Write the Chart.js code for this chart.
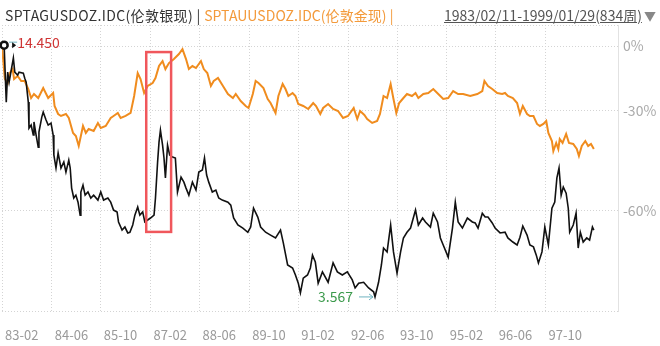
<!DOCTYPE html>
<html>
<head>
<meta charset="utf-8">
<script src="https://cdn.jsdelivr.net/npm/chart.js@4.4.1/dist/chart.umd.min.js"></script>
<style>
  html, body { margin: 0; padding: 0; background: #fff; }
  #wrap { position: relative; width: 660px; height: 346px; overflow: hidden; font-family: "Noto Sans CJK SC", "Noto Sans", sans-serif; }
  #head { position: absolute; left: 5px; top: 5px; font-size: 14px; letter-spacing: 0.35px; line-height: 20px; white-space: nowrap; color: #333; }
  #head .gold { color: #f39a3b; letter-spacing: 0.05px; }
  #range { position: absolute; left: 444px; top: 5px; font-size: 14px; line-height: 20px; color: #555; white-space: nowrap; }
  #range .arrow { color: #888; font-size: 12px; margin-left: 2px; }
  canvas { position: absolute; left: 0; top: 0; }
</style>
</head>
<body>
<div id="wrap">
  <canvas id="chart" width="660" height="346"></canvas>
  <div id="head"><span>SPTAGUSDOZ.IDC(伦敦银现) | </span><span class="gold">SPTAUUSDOZ.IDC(伦敦金现) |</span></div>
  <div id="range"><u>1983/02/11-1999/01/29(834周)</u><span class="arrow">▼</span></div>
</div>
<script>
// [week since 1983/02/11, close]
const silver = [
  [0,14.38],[3,14.45],[6,10.53],[8,12.44],[10,11.77],[16,13.45],[18,12.44],[22,12.23],[24,12.44],[30,12.37],
  [32,12.03],[34,11.77],[37,10.53],[38,9.11],[41,9.27],[44,8.77],[45,9.43],[48,8.77],[51,8.20],[52,8.91],
  [56,9.69],[58,9.96],[62,9.53],[65,9.27],[69,9.37],[72,8.77],[73,7.85],[76,7.30],[79,7.94],[83,7.30],
  [87,7.55],[90,7.14],[94,7.63],[96,7.30],[98,6.53],[101,6.18],[104,6.28],[107,6.04],[110,5.62],[111,6.39],
  [114,6.64],[117,6.28],[121,6.39],[125,6.18],[129,6.28],[135,6.11],[139,6.39],[143,6.11],[149,6.18],[153,6.04],
  [157,5.78],[162,5.72],[164,5.41],[169,5.17],[173,5.26],[177,5.09],[180,5.11],[184,5.32],[187,5.62],[191,5.88],
  [194,5.62],[198,5.72],[201,5.41],[205,5.47],[209,5.53],[214,5.62],[216,6.18],[219,7.55],[221,8.43],[223,9.01],
  [226,8.29],[228,7.72],[230,6.91],[233,8.29],[236,7.85],[240,7.76],[244,7.72],[247,6.39],[252,6.94],[256,6.75],
  [259,6.53],[263,6.28],[268,6.75],[273,6.46],[277,7.14],[282,7.22],[285,7.72],[288,7.02],[291,6.75],[296,6.39],
  [301,6.46],[305,6.18],[310,6.11],[318,6.04],[322,5.94],[326,5.53],[332,5.32],[339,5.23],[346,5.11],[350,5.26],
  [354,5.84],[360,5.56],[364,5.26],[371,5.11],[378,5.03],[385,4.95],[392,5.17],[396,4.81],[402,4.26],[409,4.19],
  [413,4.03],[417,3.85],[420,3.65],[424,3.96],[430,4.03],[434,4.19],[437,4.50],[441,4.33],[445,3.85],[451,4.10],
  [459,3.87],[466,4.31],[472,4.10],[479,4.03],[486,4.10],[493,3.92],[497,3.75],[502,3.85],[509,3.87],[516,3.75],
  [523,3.67],[525,3.567],[530,3.87],[534,4.26],[537,4.68],[542,4.58],[547,5.32],[551,4.58],[556,4.07],[561,4.58],
  [565,4.95],[570,5.11],[575,5.23],[582,5.78],[586,5.32],[592,5.53],[596,5.41],[603,5.26],[607,5.68],[613,5.41],
  [617,4.95],[621,4.76],[628,4.45],[634,5.23],[638,6.04],[642,5.41],[648,5.23],[655,5.53],[662,5.41],[666,5.38],
  [670,5.23],[676,5.68],[680,5.56],[684,5.56],[690,5.38],[694,5.23],[701,5.09],[708,5.11],[712,4.95],[719,4.84],
  [725,4.76],[729,4.97],[733,5.29],[739,5.03],[743,4.76],[748,4.71],[752,4.50],[755,4.31],[760,4.58],[764,5.26],
  [769,4.76],[774,5.84],[778,6.04],[781,6.91],[784,7.30],[787,6.28],[790,6.57],[794,6.35],[797,5.84],[799,5.11],
  [804,5.32],[808,5.68],[811,4.68],[814,5.11],[818,4.84],[823,4.95],[827,4.89],[831,5.26],[833,5.17]
]
const gold = [
  [0,500],[4,416.3],[8,407.2],[11,430.4],[15,440.0],[17,416.3],[22,423.3],[27,411.7],[32,411.7],[37,393.8],
  [41,374.6],[45,383.0],[51,374.6],[58,395.9],[65,374.6],[72,385.2],[74,358.3],[79,342.8],[83,339.0],[90,342.8],
  [94,335.3],[100,308.5],[104,303.3],[108,287.0],[114,320.7],[118,308.5],[122,315.4],[129,311.9],[135,326.1],[139,317.2],
  [146,320.7],[153,335.3],[157,339.0],[163,344.7],[167,335.3],[174,339.0],[181,344.7],[186,378.8],[191,430.4],[195,416.3],
  [200,385.2],[205,400.4],[212,407.2],[216,418.6],[221,447.4],[226,460.0],[230,440.0],[235,454.9],[242,465.1],[249,478.3],
  [254,491.7],[259,465.1],[263,440.0],[268,447.4],[273,442.5],[280,460.0],[284,440.0],[289,430.4],[294,400.4],[298,411.7],
  [304,418.6],[311,400.4],[318,383.0],[325,374.6],[329,383.0],[336,368.4],[343,358.3],[347,354.4],[353,383.0],[357,411.7],
  [361,407.2],[368,395.9],[374,372.5],[378,364.3],[385,344.7],[389,378.8],[395,404.9],[399,393.8],[403,378.8],[409,385.2],
  [413,378.8],[417,362.3],[424,358.3],[431,352.4],[438,364.3],[442,358.3],[448,342.8],[452,354.4],[459,362.3],[466,352.4],
  [473,348.5],[480,335.3],[487,339.0],[495,354.4],[500,333.4],[504,348.5],[510,340.9],[514,333.4],[521,326.1],[528,329.7],
  [532,342.8],[537,378.8],[542,374.6],[547,404.9],[551,372.5],[555,344.7],[559,364.3],[565,374.6],[570,383.0],[577,378.8],
  [582,385.2],[586,374.6],[593,383.0],[600,385.2],[607,393.8],[614,383.0],[621,372.5],[628,374.6],[635,389.4],[642,383.0],
  [649,383.0],[659,378.8],[669,383.0],[676,389.4],[679,411.7],[684,400.4],[690,393.8],[697,385.2],[704,383.0],[708,385.2],
  [712,378.8],[719,374.6],[725,364.3],[729,342.8],[733,358.3],[739,342.8],[743,339.0],[748,339.0],[753,324.3],[757,320.7],
  [762,324.3],[766,329.7],[769,308.5],[774,295.0],[776,279.1],[780,291.8],[783,282.2],[785,298.3],[789,291.8],[794,306.7],
  [798,291.8],[804,290.2],[809,282.2],[812,271.5],[816,287.0],[821,295.0],[825,287.0],[829,290.2],[833,282.2]
]
const tickWeeks = [0, 70, 139, 209, 278, 348, 417, 487, 556, 626, 695, 765]
const tickLabels = ["83-02", "84-06", "85-10", "87-02", "88-06", "89-10", "91-02", "92-06", "93-10", "95-02", "96-06", "97-10"]
const pctTicks = [0, -30, -60]
// the boxed spring-1987 silver rally, in weeks and % change
const highlight = { from: 203, to: 238, top: -3.3, bottom: -64.4 }

const X_MAX = 867
const Y_MIN = 0.2294
const Y_MAX = 1.124
const FONT = "\"Noto Sans CJK SC\", \"Noto Sans\", sans-serif"

// both series are drawn as change against their first week, on a log axis
const relative = (series) => series.map(([week, close]) => ({ x: week, y: close / series[0][1] }))

const markers = {
  id: "markers",
  afterDatasetsDraw(chart) {
    const { ctx, scales: { x, y } } = chart
    const base = silver[0][1]
    let hi = silver[0], lo = silver[0]
    silver.forEach((p) => { if (p[1] > hi[1]) hi = p; if (p[1] < lo[1]) lo = p })

    ctx.save()
    ctx.font = `14px ${FONT}`
    ctx.textBaseline = "middle"

    // highest close: ring, pointer and red label
    const hx = x.getPixelForValue(hi[0]), hy = y.getPixelForValue(hi[1] / base)
    ctx.strokeStyle = "#6fb3c0"
    ctx.lineWidth = 1
    ctx.beginPath(); ctx.moveTo(hx + 5, hy - 3); ctx.lineTo(hx + 13, hy - 3); ctx.stroke()
    ctx.fillStyle = "#111"
    ctx.beginPath(); ctx.moveTo(hx + 8, hy - 3); ctx.lineTo(hx + 8, hy + 3); ctx.lineTo(hx + 12, hy); ctx.closePath(); ctx.fill()
    ctx.fillStyle = "#fff"
    ctx.strokeStyle = "#111"
    ctx.lineWidth = 2.5
    ctx.beginPath(); ctx.arc(hx, hy, 3.5, 0, Math.PI * 2); ctx.fill(); ctx.stroke()
    ctx.fillStyle = "#cf3434"
    ctx.textAlign = "left"
    ctx.fillText(hi[1].toFixed(3), hx + 13, hy - 2)

    // lowest close: green label with arrow
    const lx = x.getPixelForValue(lo[0]), ly = y.getPixelForValue(lo[1] / base)
    ctx.strokeStyle = "#6fb3c0"
    ctx.lineWidth = 1
    ctx.beginPath(); ctx.moveTo(lx - 16, ly); ctx.lineTo(lx - 2, ly); ctx.lineTo(lx - 6, ly - 3); ctx.moveTo(lx - 2, ly); ctx.lineTo(lx - 6, ly + 3); ctx.stroke()
    ctx.fillStyle = "#3c9a4c"
    ctx.textAlign = "right"
    ctx.fillText(lo[1].toFixed(3), lx - 22, ly)

    // red box
    const x0 = x.getPixelForValue(highlight.from), x1 = x.getPixelForValue(highlight.to)
    const y0 = y.getPixelForValue(1 + highlight.top / 100), y1 = y.getPixelForValue(1 + highlight.bottom / 100)
    ctx.strokeStyle = "#f0575c"
    ctx.lineWidth = 2.5
    ctx.strokeRect(x0, y0, x1 - x0, y1 - y0)
    ctx.restore()
  }
}

Chart.defaults.font.family = FONT

new Chart(document.getElementById("chart"), {
  type: "line",
  data: {
    datasets: [
      { label: "SPTAGUSDOZ.IDC", data: relative(silver), borderColor: "#111", borderWidth: 1.6 },
      { label: "SPTAUUSDOZ.IDC", data: relative(gold), borderColor: "#f08c1e", borderWidth: 2 }
    ]
  },
  options: {
    responsive: false,
    animation: false,
    layout: { padding: { top: 25, left: 2, right: 0, bottom: 0 } },
    elements: { point: { radius: 0 }, line: { tension: 0 } },
    plugins: { legend: { display: false }, tooltip: { enabled: false } },
    scales: {
      x: {
        type: "linear",
        min: 0,
        max: X_MAX,
        afterBuildTicks: (scale) => { scale.ticks = tickWeeks.concat([X_MAX]).map((value) => ({ value })) },
        afterFit: (scale) => {
          scale.height = 35
          scale.paddingLeft = 0
          scale.paddingRight = 0
        },
        grid: { color: "#d4d4d4", drawTicks: false },
        border: { display: false, dash: [1, 2] },
        ticks: {
          autoSkip: false, maxRotation: 0, align: "start", labelOffset: 3, padding: 16,
          color: "#9a9a9a", font: { size: 13 },
          callback: (value, index) => tickLabels[index] ?? ""
        }
      },
      y: {
        type: "logarithmic",
        position: "right",
        min: Y_MIN,
        max: Y_MAX,
        afterBuildTicks: (scale) => {
          scale.ticks = [Y_MIN, ...pctTicks.map((p) => 1 + p / 100).reverse(), Y_MAX].map((value) => ({ value }))
        },
        afterFit: (scale) => { scale.width = 42 },
        grid: { color: "#d4d4d4", drawTicks: false },
        border: { display: true, color: "#e2e2e2", dash: [1, 2] },
        ticks: {
          padding: 5, color: "#aaa", font: { size: 14 },
          callback: (value) => {
            if (value === Y_MIN || value === Y_MAX) return ""
            return Math.round((value - 1) * 100) + "%"
          }
        }
      }
    }
  },
  plugins: [markers]
})
</script>
</body>
</html>
